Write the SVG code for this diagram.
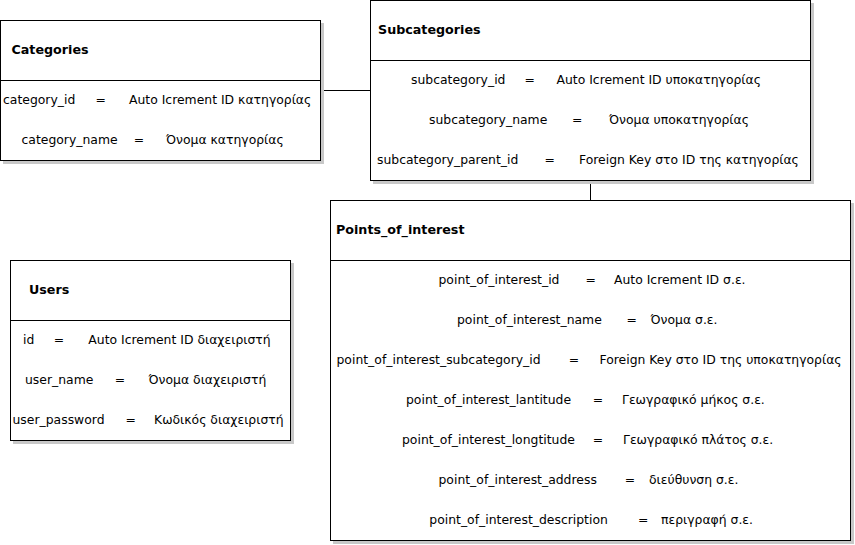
<svg xmlns="http://www.w3.org/2000/svg" width="855" height="545" viewBox="0 0 855 545">
<style>
text{font-family:"DejaVu Sans","Noto Sans",sans-serif;font-size:12.4px;fill:#000}
.t{font-weight:bold;font-size:12.7px}
.box{fill:#fff;stroke:#000;stroke-width:1}
.sh{fill:#c8c8c8;stroke:#c8c8c8;stroke-width:1}
.sep{stroke:#000;stroke-width:1;fill:none}
.con{stroke:#000;stroke-width:1;fill:none}
</style>
<rect width="855" height="545" fill="#fff"/>
<g id="connectors">
<path class="con" d="M320.5 90.5H370.5"/>
<path class="con" d="M590.5 180.5V200.5"/>
</g>
<g id="categories">
<rect class="sh" x="3.5" y="23.5" width="320" height="140"/>
<rect class="box" x="0.5" y="20.5" width="320" height="140"/>
<path class="sep" d="M0.5 80.5H320.5"/>
<text class="t" x="11.5" y="54">Categories</text>
<text x="3" y="104">category_id</text><text x="95.5" y="104">=</text><text x="129" y="104">Auto Icrement ID κατηγορίας</text>
<text x="21.5" y="144">category_name</text><text x="133.7" y="144">=</text><text x="166" y="144">Όνομα κατηγορίας</text>
</g>
<g id="subcategories">
<rect class="sh" x="373.5" y="3.5" width="440" height="180"/>
<rect class="box" x="370.5" y="0.5" width="440" height="180"/>
<path class="sep" d="M370.5 60.5H810.5"/>
<text class="t" x="378" y="34">Subcategories</text>
<text x="411" y="84">subcategory_id</text><text x="524.5" y="84">=</text><text x="556.5" y="84">Auto Icrement ID υποκατηγορίας</text>
<text x="429" y="124">subcategory_name</text><text x="572" y="124">=</text><text x="609" y="124">Όνομα υποκατηγορίας</text>
<text x="377" y="164">subcategory_parent_id</text><text x="544.5" y="164">=</text><text x="579" y="164">Foreign Key στο ID της κατηγορίας</text>
</g>
<g id="users">
<rect class="sh" x="13.5" y="263.5" width="280" height="180"/>
<rect class="box" x="10.5" y="260.5" width="280" height="180"/>
<path class="sep" d="M10.5 320.5H290.5"/>
<text class="t" x="29" y="294">Users</text>
<text x="23" y="344">id</text><text x="53.7" y="344">=</text><text x="88.3" y="344">Auto Icrement ID διαχειριστή</text>
<text x="25" y="384">user_name</text><text x="114.7" y="384">=</text><text x="148.5" y="384">Όνομα διαχειριστή</text>
<text x="12.5" y="424">user_password</text><text x="125.4" y="424">=</text><text x="154" y="424">Κωδικός διαχειριστή</text>
</g>
<g id="points_of_interest">
<rect class="sh" x="333.5" y="203.5" width="520" height="340"/>
<rect class="box" x="330.5" y="200.5" width="520" height="340"/>
<path class="sep" d="M330.5 260.5H850.5"/>
<text class="t" x="336" y="234">Points_of_interest</text>
<text x="438.5" y="284">point_of_interest_id</text><text x="585.4" y="284">=</text><text x="614" y="284">Auto Icrement ID σ.ε.</text>
<text x="457" y="324">point_of_interest_name</text><text x="626.4" y="324">=</text><text x="650.5" y="324">Όνομα σ.ε.</text>
<text x="336.5" y="364">point_of_interest_subcategory_id</text><text x="568.7" y="364">=</text><text x="599.5" y="364">Foreign Key στο ID της υποκατηγορίας</text>
<text x="406" y="404">point_of_interest_lantitude</text><text x="592.7" y="404">=</text><text x="622" y="404">Γεωγραφικό μήκος σ.ε.</text>
<text x="402" y="444">point_of_interest_longtitude</text><text x="592.7" y="444">=</text><text x="623" y="444">Γεωγραφικό πλάτος σ.ε.</text>
<text x="438.5" y="484">point_of_interest_address</text><text x="624.7" y="484">=</text><text x="649" y="484">διεύθυνση σ.ε.</text>
<text x="429.3" y="524">point_of_interest_description</text><text x="638" y="524">=</text><text x="661" y="524">περιγραφή σ.ε.</text>
</g>
</svg>
